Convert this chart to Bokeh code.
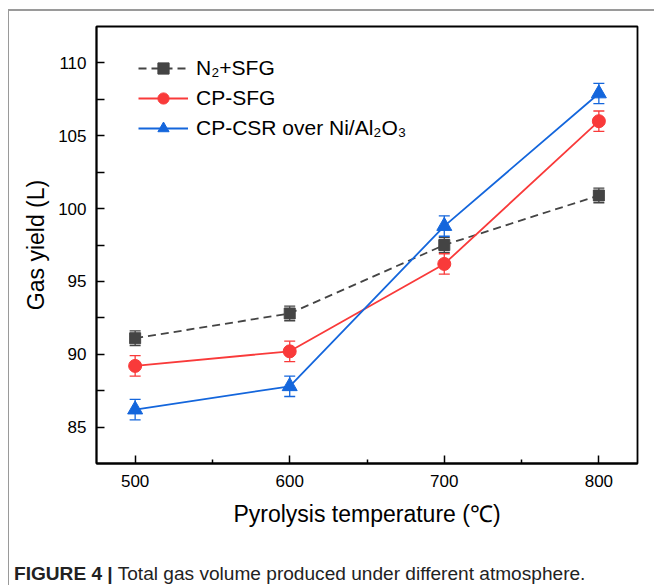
from bokeh.plotting import figure
from bokeh.models import (ColumnDataSource, Whisker, TeeHead, Legend, LegendItem,
                          Div, Range1d, FixedTicker)
from bokeh.layouts import column
from bokeh.embed import file_html
from bokeh.resources import INLINE

temps = [500, 600, 700, 800]
n2_sfg = [91.1, 92.8, 97.5, 100.9]
n2_sfg_err = [0.5, 0.5, 0.5, 0.5]
cp_sfg = [89.2, 90.2, 96.2, 106.0]
cp_sfg_err = [0.7, 0.7, 0.7, 0.7]
cp_csr = [86.2, 87.8, 98.8, 107.9]
cp_csr_err = [0.7, 0.7, 0.7, 0.7]

x_ticks = [500, 600, 700, 800]
x_minor = [550, 650, 750]
y_ticks = [85, 90, 95, 100, 105, 110]
y_minor = [87.5, 92.5, 97.5, 102.5, 107.5]

labels = ["N₂+SFG", "CP-SFG", "CP-CSR over Ni/Al₂O₃"]
colors = ["#444444", "#F93A3A", "#1466DC"]

FONT = "Liberation Sans"

p = figure(width=645, height=527, output_backend="svg", toolbar_location=None,
           x_range=Range1d(475, 825), y_range=Range1d(82.5, 112.5),
           min_border_left=87, min_border_right=17, min_border_top=15,
           min_border_bottom=75)
p.grid.visible = False
p.outline_line_color = "black"
p.outline_line_width = 1.8
p.background_fill_color = "white"
p.border_fill_color = "white"

p.xaxis.ticker = FixedTicker(ticks=x_ticks, minor_ticks=x_minor)
p.yaxis.ticker = FixedTicker(ticks=y_ticks, minor_ticks=y_minor)
for ax in (p.xaxis[0], p.yaxis[0]):
    ax.axis_line_width = 1.8
    ax.axis_line_color = "black"
    ax.major_tick_line_width = 1.5
    ax.minor_tick_line_width = 1.5
    ax.major_tick_in = 8
    ax.major_tick_out = 0
    ax.major_label_text_font = FONT
    ax.major_label_text_font_size = "17px"
    ax.major_label_text_color = "black"
    ax.axis_label_text_font = FONT
    ax.axis_label_text_font_size = "23px"
    ax.axis_label_text_font_style = "normal"
    ax.axis_label_text_color = "black"
p.xaxis.minor_tick_in = 4
p.xaxis.minor_tick_out = 0
p.yaxis.minor_tick_in = 8
p.yaxis.minor_tick_out = 0
p.xaxis.major_label_standoff = 11
p.yaxis.major_label_standoff = 10
p.xaxis.axis_label_standoff = 11
p.yaxis.axis_label_standoff = 6
p.xaxis.axis_label = "Pyrolysis temperature (℃)"
p.yaxis.axis_label = "Gas yield (L)"

series = [
    (n2_sfg, n2_sfg_err, "square", 11, "8 5"),
    (cp_sfg, cp_sfg_err, "circle", 13, "solid"),
    (cp_csr, cp_csr_err, "triangle", 15, "solid"),
]

items = []
for (vals, errs, marker, size, dash), lab, col in zip(series, labels, colors):
    src = ColumnDataSource(dict(
        x=temps, y=vals,
        upper=[v + e for v, e in zip(vals, errs)],
        lower=[v - e for v, e in zip(vals, errs)],
    ))
    w = Whisker(source=src, base="x", upper="upper", lower="lower",
                line_color=col, line_width=1.3,
                upper_head=TeeHead(size=11, line_color=col, line_width=1.3),
                lower_head=TeeHead(size=11, line_color=col, line_width=1.3))
    p.add_layout(w)
    ln = p.line("x", "y", source=src, line_color=col, line_width=1.8, line_dash=dash)
    sc = p.scatter("x", "y", source=src, marker=marker, size=size,
                   fill_color=col, line_color=col)
    items.append(LegendItem(label=lab, renderers=[ln, sc]))

legend = Legend(items=items, location=(42, 321), orientation="vertical",
                glyph_width=50, glyph_height=28, label_height=28, spacing=2,
                label_standoff=8, padding=0, margin=0,
                label_text_font=FONT, label_text_font_size="21px",
                label_text_color="black",
                border_line_color=None, background_fill_alpha=0)
p.add_layout(legend, "center")

caption = Div(width=645, height=47, text=(
    '<div style="margin-top:17px; font-family:\'Liberation Sans\', Arial, sans-serif; '
    'font-size:19.1px; color:#222; white-space:nowrap;">'
    '<b>FIGURE 4 |</b> Total gas volume produced under different atmosphere.</div>'))

layout = column(p, caption, spacing=0,
                styles={"border-top": "2px solid #9a9a9a", "border-left": "1px solid #9a9a9a",
                        "margin-left": "8px", "margin-top": "9px"})

open("out.html", "w").write(file_html(layout, INLINE))
